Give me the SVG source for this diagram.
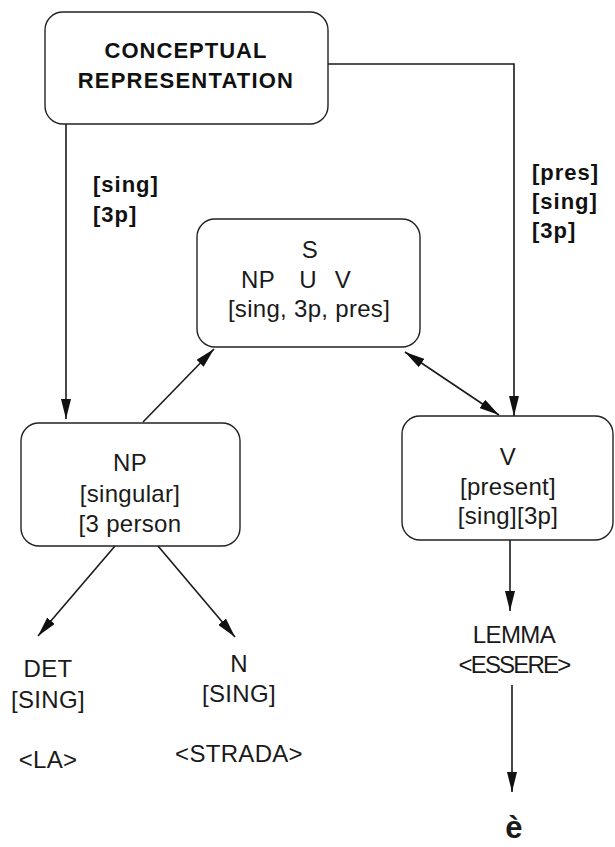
<svg xmlns="http://www.w3.org/2000/svg" width="615" height="847" viewBox="0 0 615 847">
  <defs>
    <marker id="arrow" viewBox="0 0 20 10" refX="20" refY="5" markerWidth="20" markerHeight="10" markerUnits="userSpaceOnUse" orient="auto-start-reverse">
      <path d="M0,0 L20,5 L0,10 Z" fill="#111"/>
    </marker>
    <style>
      .box { fill: #fff; stroke: #222; stroke-width: 1.4; }
      .wire { fill: none; stroke: #1a1a1a; stroke-width: 1.6; }
      .t { font-family: "Liberation Sans", Arial, sans-serif; font-size: 24px; letter-spacing: 0.3px; fill: #1a1a1a; text-anchor: middle; }
      .b { font-family: "Liberation Sans", Arial, sans-serif; font-size: 22px; font-weight: bold; fill: #111; letter-spacing: 1px; }
    </style>
  </defs>
  <rect width="615" height="847" fill="#fff"/>

  <!-- connectors and their feature labels -->
  <g id="connectors">
    <path class="wire" d="M66,124 L66,419" marker-end="url(#arrow)"/>
    <path class="wire" d="M328,64 L514,64 L514,416" marker-end="url(#arrow)"/>
    <path class="wire" d="M143,422 L214,349" marker-end="url(#arrow)"/>
    <path class="wire" d="M405,352 L499,415" marker-start="url(#arrow)" marker-end="url(#arrow)"/>
    <path class="wire" d="M115,546 L38,636" marker-end="url(#arrow)"/>
    <path class="wire" d="M158,546 L235,637" marker-end="url(#arrow)"/>
    <path class="wire" d="M510,540 L510,611" marker-end="url(#arrow)"/>
    <path class="wire" d="M512,685 L512,792" marker-end="url(#arrow)"/>
    <text class="b" x="93" y="192">[sing]</text>
    <text class="b" x="93" y="222">[3p]</text>
    <text class="b" x="532" y="180">[pres]</text>
    <text class="b" x="532" y="209">[sing]</text>
    <text class="b" x="532" y="238">[3p]</text>
  </g>

  <!-- nodes -->
  <g id="conceptual">
    <rect class="box" x="45" y="12" width="283" height="112" rx="18"/>
    <text class="b" x="186" y="58" text-anchor="middle">CONCEPTUAL</text>
    <text class="b" x="186" y="88" text-anchor="middle" style="letter-spacing:1.2px">REPRESENTATION</text>
  </g>

  <g id="s-node">
    <rect class="box" x="197" y="219" width="223" height="128" rx="18"/>
    <text class="t" x="310" y="258">S</text>
    <text class="t" x="309" y="288" text-anchor="start"><tspan x="258">NP</tspan><tspan x="308">U</tspan><tspan x="343">V</tspan></text>
    <text class="t" x="309" y="317">[sing, 3p, pres]</text>
  </g>

  <g id="np-node">
    <rect class="box" x="21" y="423" width="219" height="123" rx="18"/>
    <text class="t" x="130" y="471">NP</text>
    <text class="t" x="130" y="502">[singular]</text>
    <text class="t" x="130" y="532">[3 person</text>
  </g>

  <g id="v-node">
    <rect class="box" x="402" y="416" width="211" height="124" rx="18"/>
    <text class="t" x="508" y="465">V</text>
    <text class="t" x="508" y="495">[present]</text>
    <text class="t" x="508" y="524">[sing][3p]</text>
  </g>

  <g id="det-node">
    <text class="t" x="48" y="677">DET</text>
    <text class="t" x="48" y="708">[SING]</text>
    <text class="t" x="48" y="768">&lt;LA&gt;</text>
  </g>

  <g id="n-node">
    <text class="t" x="239" y="672">N</text>
    <text class="t" x="239" y="702">[SING]</text>
    <text class="t" x="239" y="762">&lt;STRADA&gt;</text>
  </g>

  <!-- lemma lines are set a little tighter -->
  <g id="lemma-node">
    <text class="t" x="514" y="643" style="letter-spacing:-0.6px">LEMMA</text>
    <text class="t" x="514" y="673" style="letter-spacing:-1.8px">&lt;ESSERE&gt;</text>
  </g>

  <g id="form-node">
    <text class="t" x="514" y="838" style="font-weight:bold;font-size:31px">è</text>
  </g>
</svg>
